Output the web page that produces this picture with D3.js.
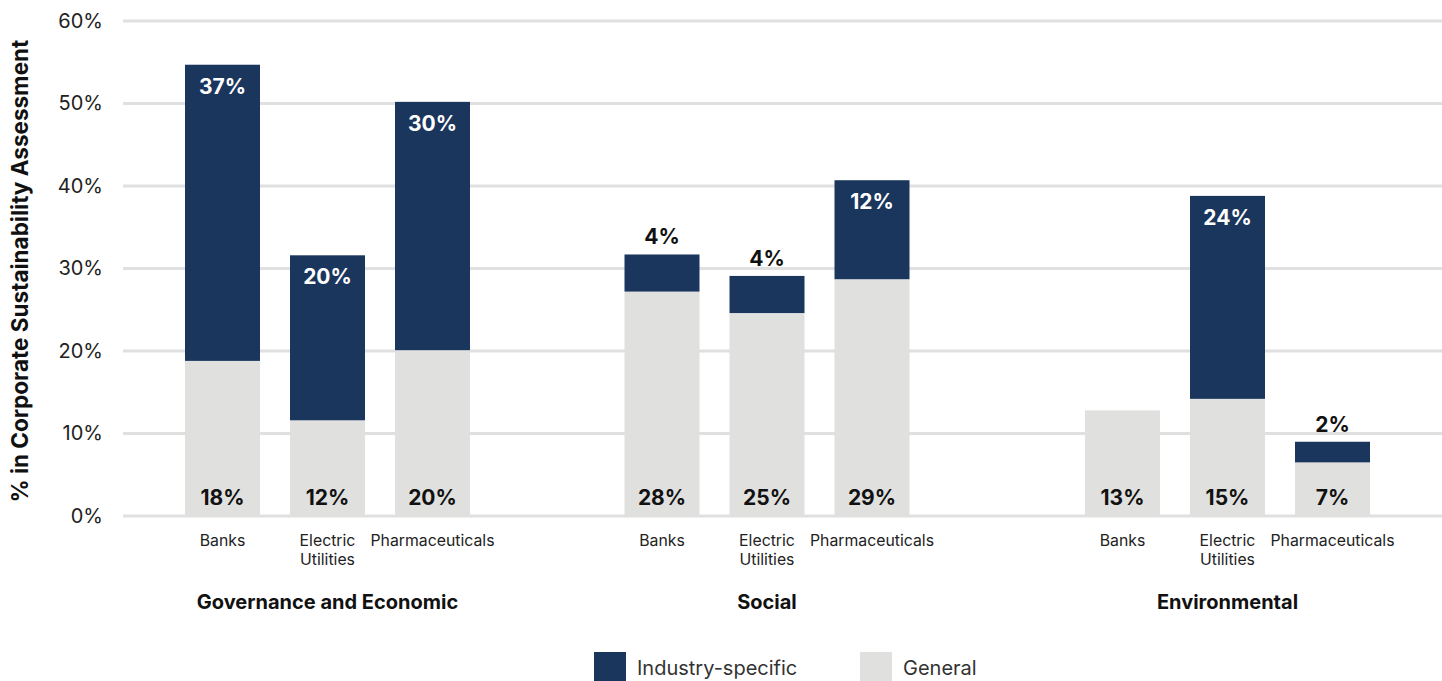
<!DOCTYPE html>
<html><head><meta charset="utf-8">
<script src="https://cdn.jsdelivr.net/npm/d3@7/dist/d3.min.js"></script>
<style>
html,body{margin:0;padding:0;background:#fff;overflow:hidden}
svg{display:block;font-family:Inter, "Noto Sans", sans-serif}
</style></head><body>
<svg id="c" width="1442" height="681"></svg>
<script>
const groups = ["Governance and Economic", "Social", "Environmental"];
const industries = ["Banks", "Electric Utilities", "Pharmaceuticals"];
const industryLines = [["Banks"], ["Electric", "Utilities"], ["Pharmaceuticals"]];
const generalValues = [[18.8, 11.6, 20.1], [27.2, 24.6, 28.7], [12.8, 14.2, 6.5]];
const specificValues = [[35.9, 20.0, 30.1], [4.5, 4.5, 12.0], [0, 24.6, 2.5]];
const generalLabels = [["18%", "12%", "20%"], ["28%", "25%", "29%"], ["13%", "15%", "7%"]];
const specificLabels = [["37%", "20%", "30%"], ["4%", "4%", "12%"], ["", "24%", "2%"]];
const yTicks = [0, 10, 20, 30, 40, 50, 60];
const seriesNames = ["Industry-specific", "General"];
const colors = {"Industry-specific": "#1b365d", "General": "#e0e0df"};

const svg = d3.select("#c");
const y = d3.scaleLinear().domain([0, 60]).range([516, 21]);
const groupWidth = 450;
const xG = d3.scaleOrdinal().domain(groups).range([102.5, 542, 1002.5]);
const xI = d3.scaleBand().domain(industries).range([0, groupWidth]).paddingInner(2/7).paddingOuter(0.7857);

// gridlines
svg.append("g").selectAll("line").data(yTicks).join("line")
  .attr("x1", 123).attr("x2", 1442)
  .attr("y1", d => y(d)).attr("y2", d => y(d))
  .attr("stroke", "#e0e0e0").attr("stroke-width", 3);

// y tick labels
const yAxis = d3.axisLeft(y).tickValues(yTicks).tickFormat(d => d + "%").tickSize(0).tickPadding(0);
const ya = svg.append("g").attr("transform", "translate(103,0)").call(yAxis);
ya.select(".domain").remove();
ya.selectAll("text").attr("font-size", 20).attr("fill", "#222").attr("font-family", "Inter, sans-serif");

// y title
svg.append("text")
  .attr("transform", "translate(28,271) rotate(-90)")
  .attr("text-anchor", "middle")
  .attr("font-size", 22.5).attr("font-weight", 700).attr("fill", "#111")
  .text("% in Corporate Sustainability Assessment");

const bw = xI.bandwidth();
groups.forEach((g, gi) => {
  const gEl = svg.append("g").attr("transform", `translate(${xG(g)},0)`);
  industries.forEach((ind, ii) => {
    const x0 = xI(ind);
    const cx = x0 + bw / 2;
    const gen = generalValues[gi][ii];
    const sp = specificValues[gi][ii];
    gEl.append("rect").attr("x", x0).attr("width", bw)
      .attr("y", y(gen)).attr("height", y(0) - y(gen))
      .attr("fill", colors["General"]);
    if (sp > 0) {
      gEl.append("rect").attr("x", x0).attr("width", bw)
        .attr("y", y(gen + sp)).attr("height", y(gen) - y(gen + sp))
        .attr("fill", colors["Industry-specific"]);
    }
    gEl.append("text").attr("x", cx).attr("y", y(0) - 11)
      .attr("text-anchor", "middle").attr("font-size", 21).attr("font-weight", 700)
      .attr("fill", "#111").text(generalLabels[gi][ii]);
    const lab = specificLabels[gi][ii];
    if (lab) {
      const h = y(gen) - y(gen + sp);
      const inside = h > 50;
      gEl.append("text").attr("x", cx)
        .attr("y", inside ? y(gen + sp) + 29 : y(gen + sp) - 10)
        .attr("text-anchor", "middle").attr("font-size", 21).attr("font-weight", 700)
        .attr("fill", inside ? "#fff" : "#111").text(lab);
    }
    const t = gEl.append("text").attr("text-anchor", "middle")
      .attr("font-size", 15.8).attr("fill", "#222");
    industryLines[ii].forEach((ln, li) => {
      t.append("tspan").attr("x", cx).attr("y", 546 + li * 18.5).text(ln);
    });
  });
  gEl.append("text").attr("x", groupWidth / 2).attr("y", 609)
    .attr("text-anchor", "middle").attr("font-size", 20).attr("font-weight", 700)
    .attr("fill", "#111").text(g);
});

// legend
const legX = d3.scaleOrdinal().domain(seriesNames).range([594, 860]);
const leg = svg.append("g");
seriesNames.forEach(s => {
  leg.append("rect").attr("x", legX(s)).attr("y", 652).attr("width", 32).attr("height", 30)
    .attr("fill", colors[s]);
  leg.append("text").attr("x", legX(s) + 43).attr("y", 675)
    .attr("font-size", 20).attr("fill", "#333").text(s);
});
</script>
</body></html>
